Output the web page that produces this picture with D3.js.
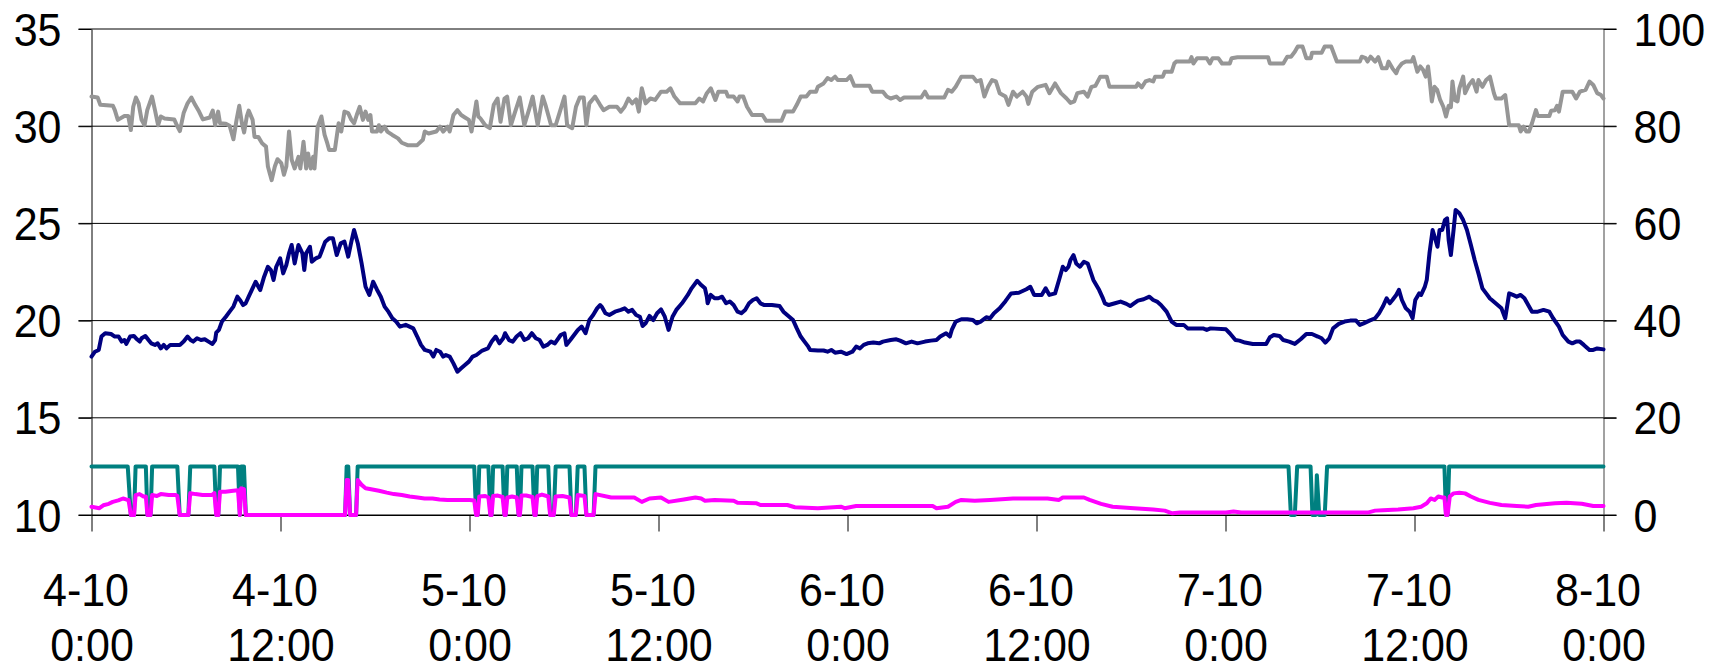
<!DOCTYPE html>
<html><head><meta charset="utf-8">
<script src="https://cdn.jsdelivr.net/npm/d3@7"></script>
<style>html,body{margin:0;padding:0;background:#fff;overflow:hidden}</style>
</head><body><svg id="chart" width="1715" height="671"></svg>
<script>
// hours since 4-10 0:00
const xTickHours = [0,12,24,36,48,60,72,84,96];
const xTickDates = ["4-10","4-10","5-10","5-10","6-10","6-10","7-10","7-10","8-10"];
const xTickTimes = ["0:00","12:00","0:00","12:00","0:00","12:00","0:00","12:00","0:00"];
const leftTicks = [10,15,20,25,30,35];
const rightTicks = [0,20,40,60,80,100];

// grey series (right axis, %)
const humidity = [[0,86.1],[0.39,85.9],[0.56,84.4],[1.36,84.2],[1.48,83.3],[1.67,81.3],[2.09,82.1],[2.33,82.1],[2.5,79.2],[2.65,84.0],[2.82,85.9],[2.99,84.7],[3.18,81.3],[3.37,80.2],[3.54,83.3],[3.84,86.1],[4.03,83.3],[4.23,80.2],[4.4,82.0],[4.64,81.6],[5.25,81.4],[5.42,80.2],[5.61,79.0],[5.85,82.7],[6.1,84.7],[6.34,85.9],[6.58,84.4],[6.83,83.0],[7.07,81.4],[7.51,81.8],[7.7,83.2],[7.85,80.2],[8.04,83.0],[8.16,80.6],[8.53,80.5],[8.77,80.1],[9.01,77.3],[9.21,81.3],[9.38,84.2],[9.55,80.6],[9.69,78.7],[9.86,82.0],[9.98,83.2],[10.23,81.3],[10.35,77.8],[10.59,77.8],[10.83,76.5],[11.08,75.8],[11.2,71.7],[11.32,70.3],[11.44,68.9],[11.64,71.7],[11.81,73.2],[12.05,72.4],[12.22,70.0],[12.37,71.7],[12.54,78.9],[12.71,73.1],[12.9,71.3],[13.14,73.7],[13.26,71.3],[13.46,76.8],[13.63,71.3],[13.75,74.4],[13.92,71.3],[14.07,73.7],[14.16,71.3],[14.36,79.9],[14.6,82.0],[14.8,78.2],[14.97,76.5],[15.09,75.1],[15.45,75.1],[15.69,80.6],[15.86,78.9],[16.06,83.0],[16.3,82.7],[16.5,81.3],[16.67,80.6],[16.84,82.3],[17.03,84.0],[17.23,81.3],[17.4,83.0],[17.57,81.3],[17.71,82.3],[17.81,78.9],[18.12,78.9],[18.25,80.2],[18.37,78.9],[18.61,79.9],[18.78,78.9],[19.1,78.2],[19.46,77.5],[19.7,76.6],[20.07,76.1],[20.68,76.1],[21.04,77.2],[21.16,78.9],[21.4,78.5],[21.89,78.9],[22.13,79.9],[22.33,78.9],[22.62,79.9],[22.74,78.9],[22.98,82.3],[23.23,83.3],[23.47,82.3],[23.71,81.8],[23.96,81.3],[24.13,78.9],[24.44,85.1],[24.56,82.0],[24.69,81.6],[25.0,80.2],[25.29,79.6],[25.54,84.4],[25.78,85.7],[25.97,80.9],[26.22,85.7],[26.39,86.1],[26.63,80.2],[26.87,82.7],[27.19,85.9],[27.48,80.2],[27.77,83.3],[28.01,86.1],[28.33,80.2],[28.65,86.1],[28.82,84.4],[29.18,80.2],[29.47,80.2],[29.71,82.7],[30.03,86.1],[30.2,80.2],[30.52,79.6],[30.76,84.0],[31.0,85.9],[31.25,85.9],[31.42,80.2],[31.61,84.7],[31.97,86.1],[32.29,84.4],[32.51,83.3],[32.88,84.0],[33.36,84.0],[33.61,83.0],[33.85,84.0],[34.09,85.7],[34.33,84.7],[34.58,85.5],[34.75,83.0],[34.94,87.8],[35.18,84.7],[35.48,85.7],[35.79,85.4],[36.16,87.1],[36.52,87.1],[36.76,87.8],[37.01,86.1],[37.37,84.7],[38.34,84.7],[38.59,85.7],[38.83,85.1],[39.07,86.8],[39.32,87.8],[39.61,85.4],[39.8,87.1],[40.29,87.1],[40.41,86.1],[40.77,86.1],[41.02,85.1],[41.14,86.1],[41.38,86.1],[41.62,84.0],[41.94,82.3],[42.6,82.3],[42.84,81.1],[43.81,81.1],[44.05,83.0],[44.54,83.0],[44.78,84.4],[45.03,86.1],[45.39,86.1],[45.63,87.1],[46.0,87.1],[46.12,88.1],[46.48,88.8],[46.73,89.9],[46.97,89.5],[47.21,90.2],[47.38,89.5],[47.94,89.5],[48.18,90.3],[48.43,88.3],[49.4,88.3],[49.57,87.1],[50.25,87.1],[50.49,86.1],[50.74,85.7],[51.1,86.1],[51.34,85.4],[51.59,85.9],[52.68,85.9],[52.92,87.1],[53.12,85.9],[54.14,85.9],[54.38,87.5],[54.62,87.1],[54.87,88.1],[55.23,90.2],[55.96,90.2],[56.2,89.2],[56.45,89.5],[56.69,86.1],[56.93,88.1],[57.18,89.5],[57.42,89.2],[57.66,86.8],[58.03,86.1],[58.22,84.4],[58.51,87.1],[58.75,86.1],[59.12,87.1],[59.36,86.1],[59.48,84.6],[59.73,87.1],[60.09,88.1],[60.58,88.5],[60.82,86.8],[61.18,88.8],[61.55,86.8],[61.91,85.7],[62.16,84.8],[62.4,85.1],[62.59,86.8],[63.01,87.1],[63.25,86.1],[63.49,88.1],[63.74,88.3],[64.05,90.2],[64.46,90.2],[64.63,88.1],[66.32,88.1],[66.44,88.8],[66.68,88.0],[66.92,89.2],[67.17,89.5],[67.41,89.2],[67.53,90.2],[68.02,90.2],[68.14,91.2],[68.58,91.2],[68.75,92.9],[68.87,93.3],[69.72,93.3],[69.84,94.2],[69.96,92.9],[70.2,94.0],[70.81,94.0],[71.01,92.9],[71.18,94.0],[71.54,94.0],[71.78,92.9],[72.27,92.9],[72.39,94.0],[72.76,94.2],[74.7,94.2],[74.82,92.9],[75.67,92.9],[75.92,94.3],[76.16,94.3],[76.4,95.3],[76.59,96.4],[76.89,96.4],[77.13,94.0],[77.42,94.0],[77.49,95.1],[78.1,95.1],[78.3,96.4],[78.71,96.4],[79.07,93.3],[80.53,93.3],[80.65,94.3],[80.9,94.0],[81.02,93.3],[81.21,94.3],[81.5,93.3],[81.7,94.2],[81.94,91.9],[82.23,91.9],[82.35,93.3],[82.6,91.9],[82.84,90.9],[82.96,91.9],[83.2,92.9],[83.45,93.3],[83.81,93.3],[83.93,94.2],[84.18,91.2],[84.37,92.3],[84.54,91.6],[84.71,90.2],[84.86,92.3],[84.95,89.9],[85.1,85.1],[85.27,88.1],[85.44,87.5],[85.63,85.4],[85.83,84.0],[86.0,82.0],[86.17,84.2],[86.31,83.9],[86.41,89.2],[86.56,85.4],[86.73,85.1],[86.85,87.8],[87.09,90.2],[87.21,86.8],[87.46,88.5],[87.7,89.5],[87.94,87.1],[88.06,89.5],[88.31,88.1],[88.55,89.5],[88.79,90.2],[89.04,86.8],[89.16,85.7],[89.52,85.7],[89.76,86.4],[90.01,80.2],[90.62,80.2],[90.74,78.9],[90.93,79.9],[91.1,78.9],[91.27,78.9],[91.46,80.6],[91.71,83.3],[91.83,82.1],[92.56,82.1],[92.68,83.2],[92.92,83.3],[93.05,84.2],[93.17,83.0],[93.41,87.1],[94.02,87.1],[94.26,85.7],[94.5,87.1],[94.87,87.5],[95.11,89.2],[95.35,88.5],[95.6,86.8],[95.84,86.4],[96,85.7]];

// navy series (left axis)
const temperature = [[0,18.15],[0.22,18.4],[0.46,18.49],[0.63,19.18],[0.87,19.35],[1.24,19.31],[1.48,19.18],[1.72,19.18],[1.92,18.92],[2.09,19.0],[2.21,18.8],[2.45,19.18],[2.69,19.21],[2.89,19.04],[3.06,18.92],[3.18,19.09],[3.42,19.21],[3.62,19.0],[3.79,18.83],[4.03,18.75],[4.2,18.83],[4.4,18.57],[4.59,18.75],[4.76,18.57],[5.0,18.75],[5.61,18.75],[5.85,18.92],[6.1,19.18],[6.29,19.0],[6.46,18.92],[6.7,19.09],[6.95,19.0],[7.19,19.04],[7.43,18.92],[7.68,18.8],[7.85,19.0],[7.92,19.38],[8.09,19.52],[8.28,19.95],[8.53,20.2],[8.77,20.46],[9.01,20.72],[9.26,21.23],[9.45,21.03],[9.62,20.8],[9.79,20.89],[9.98,21.23],[10.18,21.58],[10.42,22.0],[10.71,21.57],[10.96,22.26],[11.2,22.77],[11.39,22.6],[11.56,22.09],[11.73,22.77],[11.98,23.2],[12.17,22.43],[12.37,22.86],[12.54,23.46],[12.71,23.89],[12.9,22.94],[13.14,23.89],[13.39,23.46],[13.51,22.6],[13.63,23.46],[13.87,23.8],[13.99,23.03],[14.24,23.2],[14.48,23.29],[14.6,23.54],[14.84,24.06],[15.09,24.23],[15.33,24.23],[15.57,23.37],[15.82,23.97],[16.06,24.06],[16.3,23.29],[16.5,24.06],[16.67,24.66],[16.91,23.97],[17.15,22.94],[17.4,21.74],[17.64,21.32],[17.88,22.0],[18.12,21.6],[18.37,21.23],[18.61,20.72],[18.85,20.46],[19.1,20.12],[19.34,19.95],[19.58,19.69],[19.95,19.78],[20.19,19.69],[20.43,19.6],[20.68,19.18],[20.92,18.75],[21.16,18.49],[21.52,18.4],[21.7,18.15],[21.89,18.49],[22.13,18.4],[22.33,18.15],[22.5,18.23],[22.74,18.15],[22.98,17.8],[23.23,17.37],[23.47,17.55],[23.71,17.72],[23.96,17.89],[24.2,18.15],[24.44,18.23],[24.81,18.46],[25.17,18.57],[25.41,18.92],[25.66,19.18],[25.9,18.83],[26.14,19.09],[26.26,19.35],[26.51,19.0],[26.75,18.92],[26.99,19.18],[27.24,19.35],[27.48,19.0],[27.72,19.09],[27.96,19.35],[28.21,19.09],[28.45,19.0],[28.69,18.66],[28.94,18.75],[29.18,18.92],[29.42,18.83],[29.79,19.26],[30.03,19.35],[30.15,18.75],[30.4,19.0],[30.64,19.26],[30.88,19.52],[31.12,19.69],[31.37,19.35],[31.61,20.03],[31.85,20.29],[32.1,20.63],[32.29,20.8],[32.39,20.72],[32.63,20.38],[32.88,20.29],[33.24,20.46],[33.61,20.55],[33.85,20.63],[34.09,20.46],[34.33,20.55],[34.58,20.29],[34.82,20.2],[34.99,19.72],[35.18,19.86],[35.43,20.24],[35.67,20.03],[35.91,20.38],[36.16,20.58],[36.4,20.2],[36.64,19.52],[36.89,20.2],[37.13,20.55],[37.49,20.89],[37.86,21.32],[38.1,21.66],[38.46,22.05],[38.71,21.83],[38.95,21.66],[39.07,21.23],[39.12,20.89],[39.32,21.32],[39.56,21.15],[39.8,21.15],[40.04,21.23],[40.29,20.89],[40.53,20.98],[40.77,20.8],[41.02,20.46],[41.26,20.38],[41.5,20.55],[41.75,20.89],[41.99,21.06],[42.23,21.15],[42.47,20.89],[42.72,20.8],[43.2,20.8],[43.69,20.75],[43.93,20.46],[44.3,20.2],[44.54,20.03],[44.78,19.6],[45.03,19.18],[45.27,18.92],[45.51,18.66],[45.63,18.49],[46.12,18.46],[46.48,18.46],[46.73,18.4],[46.97,18.49],[47.21,18.35],[47.58,18.4],[47.94,18.28],[48.31,18.4],[48.55,18.66],[48.79,18.57],[49.03,18.75],[49.28,18.83],[49.64,18.87],[50.01,18.83],[50.25,18.92],[50.74,19.0],[51.1,19.04],[51.34,18.97],[51.71,18.83],[52.07,18.92],[52.44,18.83],[52.92,18.92],[53.29,18.97],[53.65,19.0],[53.89,19.18],[54.26,19.35],[54.5,19.18],[54.62,19.52],[54.87,19.95],[55.23,20.07],[55.6,20.07],[55.96,20.03],[56.2,19.86],[56.45,19.95],[56.81,20.17],[57.05,20.12],[57.3,20.38],[57.66,20.63],[58.03,21.0],[58.39,21.4],[58.88,21.43],[59.36,21.61],[59.61,21.74],[59.85,21.32],[60.33,21.32],[60.58,21.66],[60.82,21.32],[61.18,21.4],[61.43,22.09],[61.67,22.77],[61.86,22.6],[62.03,22.77],[62.16,23.12],[62.35,23.37],[62.52,22.94],[62.76,22.77],[63.01,23.03],[63.25,22.94],[63.61,22.09],[63.98,21.57],[64.22,21.14],[64.34,20.89],[64.59,20.8],[64.98,20.89],[65.34,20.98],[65.71,20.86],[65.95,20.75],[66.19,20.89],[66.44,21.03],[66.8,21.1],[67.17,21.23],[67.41,21.06],[67.65,20.98],[67.9,20.8],[68.26,20.46],[68.58,19.95],[68.87,19.78],[69.35,19.78],[69.6,19.6],[70.57,19.6],[70.81,19.52],[71.05,19.6],[72.03,19.55],[72.27,19.35],[72.63,19.0],[72.88,18.97],[73.24,18.87],[73.73,18.8],[74.58,18.8],[74.82,19.14],[75.06,19.26],[75.43,19.21],[75.67,19.0],[76.04,18.92],[76.4,18.8],[76.77,19.04],[77.13,19.31],[77.49,19.31],[77.86,19.18],[78.1,19.09],[78.34,18.87],[78.59,19.09],[78.83,19.6],[79.19,19.83],[79.56,19.95],[79.92,20.0],[80.29,20.0],[80.53,19.78],[80.77,19.86],[81.14,20.0],[81.5,20.12],[81.75,20.38],[81.99,20.72],[82.23,21.15],[82.43,20.89],[82.6,21.06],[82.84,21.32],[83.01,21.58],[83.2,21.06],[83.45,20.63],[83.69,20.46],[83.88,20.12],[84.05,21.06],[84.3,21.4],[84.42,21.32],[84.66,21.75],[84.78,22.1],[84.95,23.46],[85.15,24.66],[85.34,24.14],[85.46,23.8],[85.59,24.66],[85.76,24.66],[85.93,25.17],[86.07,25.26],[86.17,24.14],[86.31,23.37],[86.48,24.66],[86.61,25.69],[86.85,25.52],[87.09,25.17],[87.33,24.66],[87.58,23.89],[87.82,23.12],[88.06,22.43],[88.31,21.66],[88.55,21.4],[88.79,21.14],[88.91,21.06],[89.28,20.8],[89.52,20.63],[89.76,20.12],[90.01,21.4],[90.25,21.32],[90.49,21.23],[90.74,21.32],[90.98,21.15],[91.22,20.8],[91.46,20.46],[91.83,20.46],[92.19,20.55],[92.56,20.46],[92.8,20.12],[93.17,19.69],[93.41,19.26],[93.77,18.92],[94.02,18.83],[94.26,18.92],[94.5,18.92],[94.75,18.75],[95.11,18.49],[95.35,18.49],[95.6,18.57],[96,18.52]];

// teal series (right axis, on/off)
const status = [[0,10],[2.3,10],[2.5,0],[2.7,0],[2.8,10],[3.45,10],[3.55,0],[3.75,0],[3.85,10],[5.45,10],[5.6,0],[6.15,0],[6.27,10],[7.8,10],[7.92,0],[8.05,0],[8.16,10],[9.3,10],[9.42,0],[9.5,10],[9.68,10],[9.8,0],[16.1,0],[16.2,10],[16.3,10],[16.42,0],[16.8,0],[16.9,10],[24.0,10],[24.3,10],[24.42,0],[24.52,0],[24.62,10],[25.2,10],[25.32,0],[25.4,0],[25.5,10],[26.1,10],[26.22,0],[26.3,0],[26.4,10],[27.0,10],[27.12,0],[27.2,0],[27.3,10],[28.0,10],[28.12,0],[28.2,0],[28.3,10],[29.0,10],[29.12,0],[29.35,0],[29.47,10],[30.35,10],[30.47,0],[30.75,0],[30.87,10],[31.3,10],[31.42,0],[31.88,0],[32.0,10],[76.0,10],[76.15,0],[76.4,0],[76.55,10],[77.4,10],[77.52,0],[77.72,0],[77.8,8.2],[77.95,0],[78.3,0],[78.45,10],[85.9,10],[86.0,0],[86.1,0],[86.2,10],[96,10]];

// magenta series (right axis)
const rain = [[0,1.7],[0.5,1.4],[0.75,2.0],[1.1,2.3],[1.35,2.7],[1.7,3.0],[2.0,3.4],[2.2,3.2],[2.35,3.1],[2.5,0],[2.7,0],[2.8,4.1],[3.05,4.3],[3.3,3.8],[3.45,3.8],[3.55,0],[3.75,0],[3.85,4.1],[4.15,3.9],[4.4,4.3],[4.9,4.1],[5.35,4.1],[5.45,3.9],[5.6,0],[6.15,0],[6.27,4.5],[6.6,4.3],[7.05,4.1],[7.65,4.1],[7.8,4.5],[7.92,0],[8.05,0],[8.16,4.8],[8.5,4.8],[9.0,5.0],[9.3,5.1],[9.42,0],[9.5,5.5],[9.68,5.3],[9.8,0],[16.1,0],[16.2,7.2],[16.3,7.2],[16.42,0],[16.8,0],[16.9,7.2],[17.15,6.2],[17.4,5.5],[17.75,5.3],[18.25,5.0],[18.75,4.6],[19.2,4.3],[19.7,4.1],[20.2,3.8],[20.7,3.6],[21.15,3.4],[21.65,3.4],[22.1,3.2],[22.6,3.1],[23.1,3.1],[24.0,3.1],[24.3,3.0],[24.42,0],[24.52,0],[24.62,3.8],[25.0,3.9],[25.2,3.6],[25.32,0],[25.4,0],[25.5,3.9],[25.8,4.0],[26.1,3.7],[26.22,0],[26.3,0],[26.4,3.6],[26.7,3.8],[27.0,3.6],[27.12,0],[27.2,0],[27.3,4.0],[27.6,4.0],[28.0,3.7],[28.12,0],[28.2,0],[28.3,3.9],[28.6,4.2],[29.0,3.8],[29.12,0],[29.35,0],[29.47,3.8],[29.9,3.9],[30.35,3.6],[30.47,0],[30.75,0],[30.87,4.1],[31.3,3.9],[31.42,0],[31.88,0],[32.0,4.3],[33.0,3.6],[34.46,3.6],[34.94,2.7],[35.43,3.4],[36.16,3.6],[36.64,2.7],[37.61,3.2],[38.34,3.6],[38.71,3.4],[38.95,2.95],[39.56,3.1],[40.77,2.95],[41.02,2.5],[42.23,2.4],[42.47,2.05],[44.18,2.05],[44.66,1.6],[46.12,1.4],[47.58,1.7],[47.82,1.4],[48.55,1.85],[53.41,1.85],[53.65,1.4],[54.38,1.7],[54.87,2.7],[55.23,3.1],[56.08,2.95],[57.05,3.1],[58.51,3.4],[60.7,3.4],[61.43,3.1],[61.67,3.6],[63.01,3.6],[63.37,3.1],[64.1,2.3],[64.83,1.7],[66.19,1.4],[67.41,1.15],[68.14,0.9],[68.63,0.35],[69.11,0.5],[72.03,0.5],[72.51,0.7],[73.0,0.5],[81.02,0.5],[81.5,0.9],[81.99,1.0],[82.96,1.15],[83.93,1.4],[84.42,1.7],[84.78,2.4],[85.03,3.4],[85.27,3.1],[85.51,3.8],[85.76,3.6],[85.9,3.6],[86.0,0],[86.1,0],[86.24,3.8],[86.48,4.45],[86.85,4.6],[87.21,4.45],[87.58,3.8],[88.06,3.1],[88.79,2.5],[89.52,2.05],[90.49,1.85],[91.22,1.7],[91.71,2.05],[92.92,2.4],[93.65,2.5],[94.62,2.3],[95.35,1.85],[96,1.85]];

const plot = {left: 91.5, right: 1603.5, top: 29, bottom: 515};
const FONT = "'Liberation Sans', Arial, Helvetica, sans-serif";
const FS = 43, SY = 1.07;

const x = d3.scaleLinear().domain([0, 96]).range([plot.left, plot.right]);
const yL = d3.scaleLinear().domain([10, 35]).range([plot.bottom, plot.top]);
const yR = d3.scaleLinear().domain([0, 100]).range([plot.bottom, plot.top]);

const svg = d3.select("#chart");

// gridlines
svg.append("g").selectAll("line").data(leftTicks).join("line")
  .attr("x1", plot.left - 13).attr("x2", plot.right + 13)
  .attr("y1", d => yL(d)).attr("y2", d => yL(d))
  .attr("stroke", "#000").attr("stroke-width", 1);

function styleText(sel) {
  sel.attr("font-family", FONT).attr("font-size", FS).attr("fill", "#000");
}

// left axis
const gL = svg.append("g").attr("transform", `translate(${plot.left},0)`)
  .call(d3.axisLeft(yL).tickValues(leftTicks).tickSize(13).tickSizeOuter(0).tickPadding(17));
gL.select(".domain").attr("stroke", "#000");
gL.selectAll(".tick line").attr("stroke", "#000");
gL.selectAll("text").call(styleText).attr("dy", null).attr("dominant-baseline", "central")
  .attr("transform", `scale(1,${SY})`);

// right axis
const gR = svg.append("g").attr("transform", `translate(${plot.right},0)`)
  .call(d3.axisRight(yR).tickValues(rightTicks).tickSize(13).tickSizeOuter(0).tickPadding(17));
gR.select(".domain").attr("stroke", "#444");
gR.selectAll(".tick line").attr("stroke", "#000");
gR.selectAll("text").call(styleText).attr("dy", null).attr("dominant-baseline", "central")
  .attr("transform", `scale(1,${SY})`);

// bottom axis
const gB = svg.append("g").attr("transform", `translate(0,${plot.bottom})`)
  .call(d3.axisBottom(x).tickValues(xTickHours).tickSize(16.5).tickSizeOuter(0).tickFormat(""));
gB.select(".domain").attr("stroke", "#000");
gB.selectAll(".tick line").attr("stroke", "#000");
gB.selectAll(".tick").each(function(d, i) {
  const t = d3.select(this);
  t.append("text").attr("text-anchor", "middle").call(styleText)
    .attr("transform", `translate(-6,91) scale(1,${SY})`).text(xTickDates[i]);
  t.append("text").attr("text-anchor", "middle").call(styleText)
    .attr("transform", `translate(0,146) scale(1,${SY})`).text(xTickTimes[i]);
});

// series
const lineR = d3.line().x(d => x(d[0])).y(d => yR(d[1]));
const lineL = d3.line().x(d => x(d[0])).y(d => yL(d[1]));
const series = [
  {data: humidity, line: lineR, color: "#969696"},
  {data: temperature, line: lineL, color: "#000080"},
  {data: status, line: lineR, color: "#008080"},
  {data: rain, line: lineR, color: "#FF00FF"}
];
svg.append("g").selectAll("path").data(series).join("path")
  .attr("d", s => s.line(s.data))
  .attr("fill", "none").attr("stroke", s => s.color)
  .attr("stroke-width", 4).attr("stroke-linejoin", "round").attr("stroke-linecap", "round");
</script></body></html>
